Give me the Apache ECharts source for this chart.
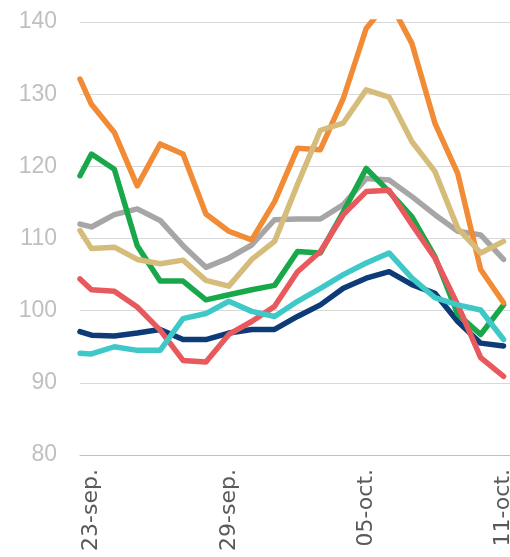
<!DOCTYPE html>
<html>
<head>
<meta charset="utf-8">
<script src="https://cdn.jsdelivr.net/npm/echarts@6/dist/echarts.min.js"></script>
<style>
html,body{margin:0;padding:0;background:#fff;}
#chart{width:510px;height:557px;}
</style>
</head>
<body>
<div id="chart"></div>
<script>
// dates on the axis (one band per day)
var dates = ['23-sep.','24-sep.','25-sep.','26-sep.','27-sep.','28-sep.','29-sep.','30-sep.',
    '01-oct.','02-oct.','03-oct.','04-oct.','05-oct.','06-oct.','07-oct.','08-oct.','09-oct.','10-oct.','11-oct.'];
// first value = where the line enters at the left edge, then one value per day
var orange = [132.1,128.6,124.7,117.3,123.1,121.7,113.4,111.0,109.8,115.1,122.5,122.3,129.4,139.1,143.0,137.0,126.0,119.0,105.7,101.1];
var tan    = [111.1,108.6,108.8,107.1,106.5,107.0,104.2,103.4,107.1,109.6,117.5,125.0,126.0,130.6,129.6,123.4,119.3,111.4,108.0,109.6];
var gray   = [112.0,111.6,113.3,114.1,112.5,109.0,106.0,107.3,109.1,112.6,112.7,112.7,114.7,118.3,118.1,115.8,113.3,111.0,110.5,107.1];
var green  = [118.7,121.7,119.6,109.0,104.1,104.1,101.5,102.2,102.9,103.5,108.2,108.0,113.7,119.7,116.5,113.0,107.5,99.5,96.7,100.8];
var red    = [104.4,102.9,102.7,100.5,97.3,93.1,92.9,96.7,98.5,100.6,105.4,108.2,113.3,116.5,116.7,111.9,107.3,100.8,93.5,90.9];
var cyan   = [94.1,94.0,95.0,94.5,94.5,98.9,99.6,101.3,99.9,99.2,101.3,103.1,105.0,106.6,108.0,104.5,101.8,100.8,100.1,96.0];
var navy   = [97.1,96.6,96.5,96.9,97.4,96.0,96.0,96.9,97.4,97.4,99.2,100.8,103.1,104.5,105.4,103.6,102.4,98.5,95.5,95.1];

function pts(arr){
    var out=[];
    for(var i=0;i<arr.length;i++){
        out.push([i==0?0:i-0.5, arr[i]]);
    }
    return out;
}
function line(name,arr,color){
    return {
        name:name,
        type:'line',
        xAxisIndex:1,
        symbol:'none',
        clip:true,
        lineStyle:{width:5.5,color:color,join:'round',cap:'round'},
        data:pts(arr)
    };
}

var myChart = echarts.init(document.getElementById('chart'));
myChart.setOption({
    animation:false,
    grid:{left:80,top:22,width:435,height:433,outerBoundsMode:'none',containLabel:false},
    xAxis:[{
        type:'category',
        boundaryGap:true,
        data:dates,
        axisLine:{lineStyle:{color:'#bfbfbf',width:1}},
        axisTick:{interval:5,length:6,lineStyle:{color:'#bfbfbf'}},
        axisLabel:{interval:5,rotate:90,margin:14,color:'#595959',fontSize:22,fontFamily:'DejaVu Sans'},
        splitLine:{show:false}
    },{
        type:'value',
        min:0,
        max:19,
        show:false
    }],
    yAxis:{
        type:'value',
        min:80,
        max:140,
        interval:10,
        axisLine:{show:false},
        axisTick:{show:false},
        axisLabel:{margin:23,color:'#c0c0c0',fontSize:23,fontFamily:'Liberation Sans'},
        splitLine:{lineStyle:{color:'#d9d9d9',width:1}}
    },
    series:[
        line('navy',navy,'#0c3b78'),
        line('gray',gray,'#a6a6a6'),
        line('green',green,'#18a84a'),
        line('red',red,'#e8595d'),
        line('cyan',cyan,'#3ec8c8'),
        line('orange',orange,'#f28b35'),
        line('tan',tan,'#d6bc7b')
    ]
});
</script>
</body>
</html>
